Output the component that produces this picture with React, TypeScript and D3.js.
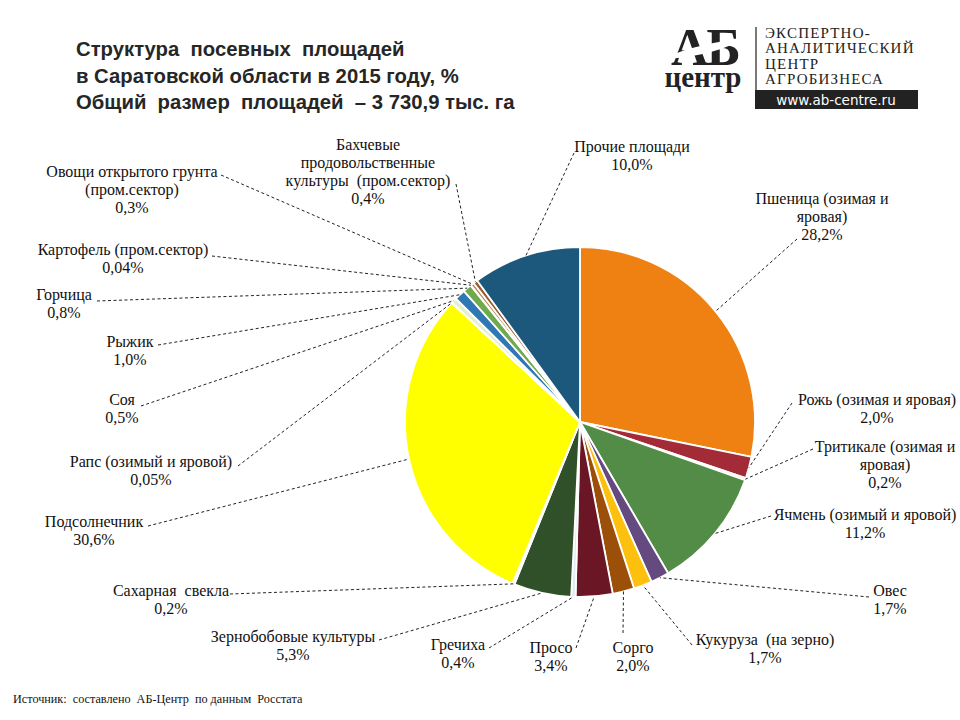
import * as d3 from "d3";

// categories, in pie order (clockwise from 12 o'clock)
const categories = [
  "Пшеница (озимая и\nяровая)",
  "Рожь (озимая и яровая)",
  "Тритикале (озимая и\nяровая)",
  "Ячмень (озимый и яровой)",
  "Овес",
  "Кукуруза  (на зерно)",
  "Сорго",
  "Просо",
  "Гречиха",
  "Зернобобовые культуры",
  "Сахарная  свекла",
  "Подсолнечник",
  "Рапс (озимый и яровой)",
  "Соя",
  "Рыжик",
  "Горчица",
  "Картофель (пром.сектор)",
  "Овощи открытого грунта\n(пром.сектор)",
  "Бахчевые\nпродовольственные\nкультуры  (пром.сектор)",
  "Прочие площади",
];

const shares = [
  28.2, 2.0, 0.2, 11.2, 1.7, 1.7, 2.0, 3.4, 0.4, 5.3,
  0.2, 30.6, 0.05, 0.5, 1.0, 0.8, 0.04, 0.3, 0.4, 10.0,
];

const colors = [
  "#ee8112", "#a32b37", "#f3e3c3", "#538c46", "#654a80",
  "#fec00f", "#9c4f08", "#6b1624", "#dcecf2", "#2f5029",
  "#eef0d2", "#ffff00", "#fbfbb0", "#e3f0cc", "#2f78b3",
  "#71aa4c", "#d8b89a", "#b9834c", "#9a5a2e", "#1c587c",
];

// label layout: text centre x, first baseline y, leader start x/y
const labelLayout: [number, number, number, number][] = [
  [822, 204, 797, 239],
  [877, 405, 792, 403],
  [885, 452, 813, 449],
  [865, 520, 771, 516],
  [890, 596, 869, 597],
  [765, 645, 692, 645],
  [633, 653, 623, 633],
  [551, 653, 576, 648],
  [458, 650, 489, 648],
  [293, 642, 379, 640],
  [171, 596, 230, 594],
  [94, 527, 148, 526],
  [151, 467, 238, 466],
  [122, 405, 141, 406],
  [130, 347, 158, 345],
  [64, 300, 97, 301],
  [123, 255, 212, 256],
  [132, 177, 221, 175],
  [368, 150, 456, 184],
  [632, 152, 574, 153],
];

const titleLines = [
  "Структура  посевных  площадей",
  "в Саратовской области в 2015 году, %",
  "Общий  размер  площадей  – 3 730,9 тыс. га",
];

const logoLines = ["ЭКСПЕРТНО-", "АНАЛИТИЧЕСКИЙ", "ЦЕНТР", "АГРОБИЗНЕСА"];

const width = 960;
const height = 720;
const cx = 580;
const cy = 422;
const radius = 175;
const LINE_H = 18;
const SERIF = "'Liberation Serif', 'Times New Roman', Times, serif";

const fmt = (v: number) =>
  (v < 0.1 ? v.toFixed(2) : v.toFixed(1)).replace(".", ",") + "%";

export default function App() {
  const pie = d3.pie<number>().sort(null).value((d) => d);
  const arcs = pie(shares);
  const arc = d3.arc<d3.PieArcDatum<number>>().innerRadius(0).outerRadius(radius);
  const edge = d3.arc<d3.PieArcDatum<number>>().innerRadius(radius).outerRadius(radius);

  return (
    <svg
      width={width}
      height={height}
      style={{ position: "absolute", left: 0, top: 0, background: "#fff" }}
    >
      <rect width={width} height={height} fill="#fff" />

      {/* title */}
      {titleLines.map((t, i) => (
        <text
          key={i}
          x={76}
          y={56 + i * 26.5}
          fontFamily="'Liberation Sans', Arial, sans-serif"
          fontWeight={700}
          fontSize={20.3}
          fill="#262626"
          style={{ whiteSpace: "pre" }}
        >
          {t}
        </text>
      ))}

      {/* logo: АБ over центр, one text block */}
      <g>
        <text textAnchor="middle" fontFamily={SERIF} fontWeight={700} fill="#222">
          <tspan x={705} y={65} fontSize={52} letterSpacing={-2}>АБ</tspan>
          <tspan x={703} y={87} fontSize={29}>центр</tspan>
        </text>
        <path d="M668,57 C690,46 715,43 746,37 C726,50 700,56 668,59 Z" fill="#fff" />
        <line x1={756} x2={756} y1={27} y2={90} stroke="#222" strokeWidth={1.2} />
        {logoLines.map((t, i) => (
          <text key={t} x={765} y={38 + i * 15.3} fontFamily={SERIF}
            fontSize={15} fill="#222" letterSpacing={1.2}>{t}</text>
        ))}
        <rect x={755} y={90} width={163} height={19} fill="#222" />
        <text x={836} y={105} textAnchor="middle" fontFamily="'DejaVu Sans', sans-serif"
          fontSize={13.5} fill="#fff">www.ab-centre.ru</text>
      </g>

      {/* slices */}
      <g transform={`translate(${cx},${cy})`}>
        {arcs.map((a, i) => (
          <path key={i} d={arc(a) || ""} fill={colors[i]} stroke="#fff" strokeWidth={1.8}
            strokeLinejoin="round" />
        ))}
      </g>

      {/* leaders + labels */}
      {arcs.map((a, i) => {
        const [tx, ty] = edge.centroid(a);
        const [lx, ly, ax, ay] = labelLayout[i];
        const lines = [...categories[i].split("\n"), fmt(shares[i])];
        return (
          <g key={i}>
            <line x1={ax} y1={ay} x2={cx + tx} y2={cy + ty} stroke="#222" strokeWidth={1}
              strokeDasharray="3 2.5" />
            {lines.map((t, j) => (
              <text key={j} x={lx} y={ly + j * LINE_H} textAnchor="middle"
                fontFamily={SERIF} fontSize={16}
                fill="#111" style={{ whiteSpace: "pre" }}>{t}</text>
            ))}
          </g>
        );
      })}

      <text x={13} y={703} fontFamily={SERIF}
        fontSize={12.2} fill="#111" style={{ whiteSpace: "pre" }}>
        Источник:  составлено  АБ-Центр  по данным  Росстата
      </text>
    </svg>
  );
}
